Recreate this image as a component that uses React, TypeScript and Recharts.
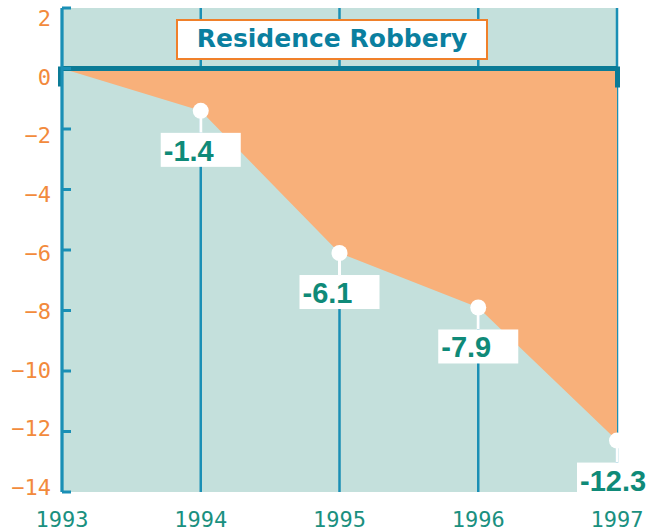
import React from "react";
import {
  AreaChart,
  Area,
  XAxis,
  YAxis,
  CartesianGrid,
  ReferenceLine,
} from "recharts";

const years = ["1993", "1994", "1995", "1996", "1997"];
const change = [0, -1.4, -6.1, -7.9, -12.3];
const yTicks = [2, 0, -2, -4, -6, -8, -10, -12, -14];
const title = "Residence Robbery";

const data = years.map((year, i) => ({ year, change: change[i] }));

const AXIS_X = 62;
const teal = "#c4e0dc";
const orange = "#f8b07a";
const lineBlue = "#1a8fb5";
const darkTeal = "#0b7b96";
const labelGreen = "#0f8a78";

// tick labels sit a little below their ticks at the top and drift upward toward the bottom
function YTick(props: any) {
  const { y, payload } = props;
  const txt = String(payload.value).replace("-", "\u2212");
  const drift = 10 - (2 - payload.value) * (15 / 16);
  return (
    <g>
      <line x1={AXIS_X} x2={AXIS_X + 9} y1={y} y2={y} stroke={lineBlue} strokeWidth={3} />
      <text
        x={AXIS_X - 11}
        y={y + drift + 8}
        textAnchor="end"
        fill="#f28a3c"
        fontSize={22}
        fontFamily="'DejaVu Sans Mono', monospace"
      >
        {txt}
      </text>
    </g>
  );
}

function XTick(props: any) {
  const { x, payload } = props;
  return (
    <text
      x={x}
      y={527}
      textAnchor="middle"
      fill="#1a9080"
      fontSize={22}
      fontFamily="'DejaVu Sans Mono', monospace"
    >
      {payload.value}
    </text>
  );
}

function ValueDot(props: any) {
  const { cx, cy, index, payload } = props;
  if (index === 0 || cx == null) return <g key={`d${index}`} />;
  const top = cy + 22;
  return (
    <g key={`d${index}`}>
      <line x1={cx} x2={cx} y1={cy} y2={top} stroke="#fff" strokeWidth={3} />
      <circle cx={cx} cy={cy} r={8} fill="#fff" />
      <rect x={cx - 40} y={top} width={80} height={34} fill="#fff" />
      <text
        x={cx - 37}
        y={top + 28}
        fill={labelGreen}
        fontSize={29}
        fontWeight="bold"
        fontFamily="'Liberation Sans', Arial, sans-serif"
      >
        {payload.change.toFixed(1)}
      </text>
    </g>
  );
}

function ZeroLine(props: any) {
  const { x1, x2, y1 } = props;
  return (
    <g>
      <line x1={x1} x2={x2} y1={y1} y2={y1} stroke={darkTeal} strokeWidth={5} />
      <rect x={x1 - 4} y={y1 - 2} width={5} height={20} fill={darkTeal} />
      <rect x={x2 - 2} y={y1 - 2} width={5} height={21} fill={darkTeal} />
    </g>
  );
}

export default function App() {
  return (
    <div style={{ position: "absolute", left: 0, top: 0, width: 651, height: 531 }}>
      <AreaChart
        width={651}
        height={531}
        data={data}
        margin={{ top: 8, right: 34, bottom: 9, left: 0 }}
      >
        <CartesianGrid
          horizontal={false}
          fill={teal}
          fillOpacity={1}
          stroke={lineBlue}
          strokeWidth={2.5}
        />
        <XAxis
          dataKey="year"
          axisLine={false}
          tickLine={false}
          height={30}
          tick={<XTick />}
          interval={0}
        />
        <YAxis
          domain={[-14, 2]}
          ticks={yTicks}
          width={AXIS_X}
          interval={0}
          axisLine={{ stroke: lineBlue, strokeWidth: 3 }}
          tickLine={false}
          tick={<YTick />}
        />
        <Area
          type="linear"
          dataKey="change"
          baseValue={0}
          stroke="none"
          fill={orange}
          fillOpacity={1}
          isAnimationActive={false}
          dot={false}
          activeDot={false}
        />
        <ReferenceLine y={0} shape={<ZeroLine />} />
        <Area
          type="linear"
          dataKey="change"
          stroke="none"
          fill="none"
          isAnimationActive={false}
          dot={(p: any) => <ValueDot {...p} />}
          activeDot={false}
        />
      </AreaChart>
      <div
        style={{
          position: "absolute",
          left: 176,
          top: 19,
          width: 312,
          height: 41,
          boxSizing: "border-box",
          border: "2.5px solid #f0802a",
          background: "#fff",
          color: "#0a7f9f",
          fontFamily: "'DejaVu Sans', sans-serif",
          fontWeight: "bold",
          fontSize: 25,
          lineHeight: "36px",
          textAlign: "center",
        }}
      >
        {title}
      </div>
    </div>
  );
}
